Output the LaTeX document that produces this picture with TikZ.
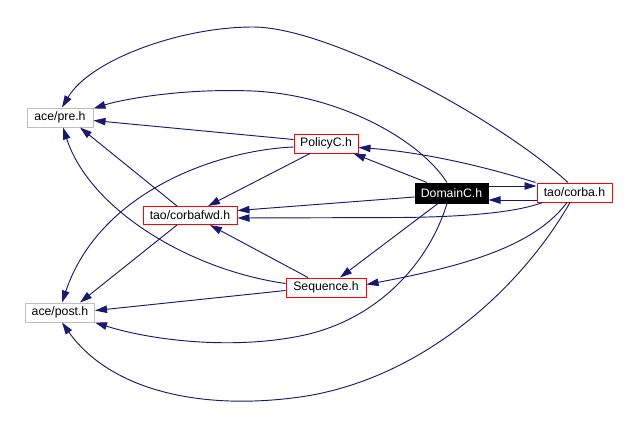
\documentclass[tikz,border=0pt]{standalone}
\usepackage{fontspec}
\setmainfont{Liberation Sans}
\usetikzlibrary{arrows.meta,calc}
\definecolor{edge}{HTML}{191970}
\definecolor{greyb}{HTML}{BFBFBF}
\begin{document}
\begin{tikzpicture}[x=0.75pt,y=-0.75pt,
  box/.style={draw, rectangle, inner sep=0pt, line width=0.75pt, font=\fontsize{9.2}{11}\selectfont, text=black, fill=white},
  redbox/.style={box, draw=red},
  greybox/.style={box, draw=greyb},
  dep/.style={draw=edge, line width=0.7pt, -{Triangle[length=9pt,width=5.6pt]}, edge}
]
\useasboundingbox[fill=white] (0,0) rectangle (636,430);

\node[greybox, minimum width=49.5pt, minimum height=14.25pt] (pre) at (60,117.5) {ace/pre.h};
\node[greybox, minimum width=51.75pt, minimum height=14.25pt] (post) at (60,312.5) {ace/post.h};
\node[redbox, minimum width=70.5pt, minimum height=13.5pt] (fwd) at (190,215.5) {tao/corbafwd.h};
\node[redbox, minimum width=48pt, minimum height=14.25pt] (policy) at (326,143.5) {PolicyC.h};
\node[box, draw=black, fill=black, text=white, minimum width=54.75pt, minimum height=15pt] (domain) at (451.5,193) {DomainC.h};
\node[redbox, minimum width=56.25pt, minimum height=14.25pt] (corba) at (574.5,192.5) {tao/corba.h};
\node[redbox, minimum width=60pt, minimum height=14.25pt] (seq) at (326,287.5) {Sequence.h};

% DomainC.h
\draw[dep] ($(domain.north)+(-4.5,0)$) .. controls (420,140) and (340,95) .. (253,91) .. controls (180,88) and (120,100) .. ($(pre.north east)+(0,1)$);
\draw[dep] ($(domain.north)+(-24.5,0)$) -- ($(policy.south east)+(-5,0)$);
\draw[dep] ($(domain.west)+(0,4)$) -- ($(fwd.east)+(0,-5)$);
\draw[dep] ($(domain.south)+(-13.5,0)$) -- ($(seq.north)+(14,0)$);
\draw[dep] ($(domain.south)+(-4.5,0)$) .. controls (430,260) and (380,320) .. (300,336) .. controls (230,350) and (150,340) .. (post.south east);
\draw[dep] ($(domain.east)+(0,-7)$) -- ($(corba.west)+(0,-6.5)$);

% tao/corba.h
\draw[dep] ($(corba.west)+(0,7.5)$) -- ($(domain.east)+(0,7)$);
\draw[dep] ($(corba.north)+(-6.5,0)$) .. controls (500,120) and (330,27) .. (253,27) .. controls (180,27) and (90,60) .. ($(pre.north)+(2,0)$);
\draw[dep] ($(corba.north west)+(-1,0)$) .. controls (480,165) and (420,152) .. ($(policy.east)+(0,4)$);
\draw[dep] ($(corba.south west)+(6,0)$) .. controls (515,213) and (460,217) .. (400,217.5) -- ($(fwd.east)+(0,2.5)$);
\draw[dep] ($(corba.south)+(-7.5,0)$) .. controls (535,245) and (470,265) .. ($(seq.east)+(0,-3)$);
\draw[dep] ($(corba.south)+(-4.5,0)$) .. controls (520,290) and (420,380) .. (300,397) .. controls (200,411) and (110,390) .. ($(post.south)+(2,0)$);

% PolicyC.h
\draw[dep] ($(policy.west)+(0,-4)$) -- ($(pre.east)+(0,3)$);
\draw[dep] ($(policy.south)+(-16,0)$) -- ($(fwd.north)+(18,0)$);
\draw[dep] ($(policy.west)+(0,3.5)$) .. controls (220,150) and (100,190) .. ($(post.north)+(2,0)$);

% tao/corbafwd.h
\draw[dep] ($(fwd.north)+(-13,0)$) -- ($(pre.south)+(20,0)$);
\draw[dep] ($(fwd.south)+(-13,0)$) -- ($(post.north)+(20,0)$);

% Sequence.h
\draw[dep] ($(seq.west)+(0,-4)$) .. controls (190,270) and (90,210) .. ($(pre.south)+(3,0)$);
\draw[dep] ($(seq.north)+(-18,0)$) -- ($(fwd.south)+(20,0)$);
\draw[dep] ($(seq.west)+(0,3)$) -- ($(post.east)+(0,-2)$);
\end{tikzpicture}
\end{document}
